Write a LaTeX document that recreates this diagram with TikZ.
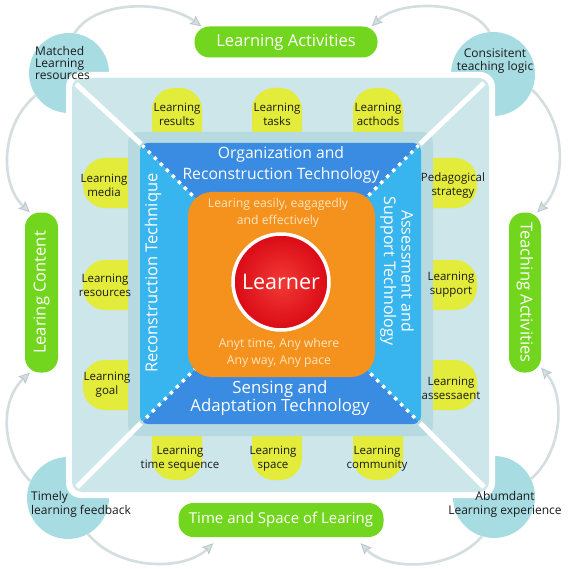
\documentclass[tikz,border=0pt]{standalone}
\usepackage{fontspec}
\setmainfont{Open Sans}
\usetikzlibrary{arrows.meta}
\definecolor{outersq}{HTML}{CDE6EA}
\definecolor{halo}{HTML}{B7DAE0}
\definecolor{darkblue}{HTML}{3A8BE2}
\definecolor{lightblue}{HTML}{38B5EF}
\definecolor{orangebox}{HTML}{F5921E}
\definecolor{redc}{HTML}{DA0A16}
\definecolor{redlight}{HTML}{F23A34}
\definecolor{greenpill}{HTML}{73D61E}
\definecolor{yel}{HTML}{E3EC3A}
\definecolor{tealc}{HTML}{A8DCE3}
\definecolor{arcgray}{HTML}{D4DDE0}
\definecolor{arcdark}{HTML}{BAC6CA}
\definecolor{cream}{HTML}{FDE6C0}
\definecolor{txt}{HTML}{1A1A1A}
\tikzset{
  cornerc/.style={circle, fill=tealc, inner sep=0pt},
  pill/.style={fill=greenpill, rounded corners=15pt, text=white, font=\fontsize{16.5}{18}\selectfont, inner sep=0pt},
  ylab/.style={align=center, text=txt, font=\fontsize{11.5}{14}\selectfont, inner sep=0pt},
  ctext/.style={text=txt, inner sep=0pt},
  tech/.style={text=white, align=center, inner sep=0pt},
  otext/.style={text=cream, align=center, inner sep=0pt, font=\fontsize{12.2}{17.5}\selectfont},
  conn/.style={draw=arcgray, line width=2.6pt, -{Stealth[length=11pt,width=10pt,inset=2pt,color=arcdark,fill=arcgray,line width=0.8pt]}},
  yshape/.style={fill=yel, rounded corners=22pt},
  diag/.style={white, line width=5pt},
  dots/.style={white, line width=3.5pt, dash pattern=on 3.5pt off 5pt}
}
\begin{document}
\begin{tikzpicture}[x=1pt,y=-1pt]
\useasboundingbox (0,0) rectangle (567,569);
\fill[white] (0,0) rectangle (567,569);

% corner circles
\node[cornerc, minimum size=80pt] (tlc) at (69,73) {};
\node[cornerc, minimum size=84pt] (trc) at (493,74) {};
\node[cornerc, minimum size=82pt] (blc) at (68,498) {};
\node[cornerc, minimum size=82pt] (brc) at (494,497) {};

% white gap and outer square
\fill[white, rounded corners=15pt] (66,72) rectangle (495,498);
\fill[outersq, rounded corners=10pt] (72,78) rectangle (489,492);

% yellow shapes (extending under halo)
\foreach \c in {177,277,378} {
  \fill[yshape] (\c-25,88) rectangle (\c+25,170);
  \fill[yshape] (\c-25,400) rectangle (\c+25,480);
}
\foreach \c in {183,285,385} {
  \fill[yshape] (83,\c-25) rectangle (170,\c+25);
  \fill[yshape] (390,\c-25) rectangle (477,\c+25);
}

% halo
\fill[halo, rounded corners=10pt] (128,132) rectangle (433,436);

% white diagonals
\draw[diag] (141,144) -- (76,84);
\draw[diag] (420,144) -- (484,83);
\draw[diag] (141,423) -- (77,487);
\draw[diag] (420,423) -- (484,487);

% inner square
\begin{scope}
\clip[rounded corners=8pt] (140,143) rectangle (421,424);
\fill[darkblue] (140,143) -- (421,143) -- (280.5,283.5) -- cycle;
\fill[darkblue] (140,424) -- (421,424) -- (280.5,283.5) -- cycle;
\fill[lightblue] (140,143) -- (140,424) -- (280.5,283.5) -- cycle;
\fill[lightblue] (421,143) -- (421,424) -- (280.5,283.5) -- cycle;
\draw[dots] (142,145) -- (419,422);
\draw[dots] (419,145) -- (142,422);
\end{scope}

% orange box
\fill[orangebox, rounded corners=24pt] (188,192) rectangle (375,377);

% learner
\node[circle, minimum size=96pt, draw=white, line width=3.5pt, inner color=redlight, outer color=redc, text=white, font=\fontsize{21.5}{26}\selectfont] (learner) at (281,282) {Learner};

% orange texts
\node[otext] (easy) at (278,213) {Learing easily, eagagedly\\and effectively};
\node[otext] (any) at (279,353) {Anyt time, Any where\\Any way, Any pace};

% technology labels
\node[tech, font=\fontsize{15.7}{20.5}\selectfont] (org) at (281,165) {Organization and\\Reconstruction Technology};
\node[tech, font=\fontsize{16.8}{17.5}\selectfont] (sens) at (280,398) {Sensing and\\Adaptation Technology};
\node[tech, font=\fontsize{16.5}{18}\selectfont, rotate=90] (rec) at (153,273) {Reconstruction Technique};
\node[tech, font=\fontsize{16}{17.5}\selectfont, rotate=-90] (ass) at (397,271) {Assessment and\\Support Technology};

% yellow labels
\node[ylab] (yt1) at (177,114) {Learning\\results};
\node[ylab] (yt2) at (277,114) {Learning\\tasks};
\node[ylab] (yt3) at (378,114) {Learning\\acthods};
\node[ylab] (yl1) at (104,185) {Learning\\media};
\node[ylab] (yl2) at (105,285) {Learning\\resources};
\node[ylab] (yl3) at (107,385) {Learning\\goal};
\node[ylab] (yr1) at (453,186) {Pedagogical\\strategy};
\node[ylab] (yr2) at (451,285) {Learning\\support};
\node[ylab] (yr3) at (451,388) {Learning\\assessaent};
\node[ylab] (yb1) at (180,459) {Learning\\time sequence};
\node[ylab] (yb2) at (273,459) {Learning\\space};
\node[ylab] (yb3) at (377,459) {Learning\\community};

% pills
\node[pill, minimum width=183pt, minimum height=31pt] (la) at (286,42) {Learning Activities};
\node[pill, minimum width=205pt, minimum height=34pt, font=\fontsize{15}{18}\selectfont] (tsl) at (281,520) {Time and Space of Learing};
\node[pill, minimum width=33pt, minimum height=160pt] (lc) at (41.5,292.5) {\rotatebox{90}{Learing Content}};
\node[pill, minimum width=32pt, minimum height=160pt] (ta) at (525,292.5) {\rotatebox{-90}{Teaching Activities}};

% connectors
\draw[conn] (tlc.82) .. controls +(20,-33) and +(-37,-27) .. ([xshift=7pt]la.north west);
\draw[conn] (tlc.214) .. controls +(-36,30) and +(-30,-28) .. ([xshift=5pt]lc.north west);
\draw[conn] (trc.95) .. controls +(-18,-32) and +(28,-27) .. ([xshift=-6pt]la.north east);
\draw[conn] (trc.-22) .. controls +(37,35) and +(28,-28) .. ([xshift=-4pt]ta.north east);
\draw[conn] (blc.156) .. controls +(-30,-31) and +(-30,28) .. ([xshift=5pt]lc.south west);
\draw[conn] (blc.-61) .. controls +(32,38) and +(-28,27) .. ([xshift=35pt,yshift=-6pt]tsl.south west);
\draw[conn] (brc.253) .. controls +(-32,36) and +(25,27) .. ([xshift=-23pt,yshift=-6pt]tsl.south east);
\draw[conn] (brc.26) .. controls +(32,-28) and +(24,28) .. ([yshift=5pt]ta.south east);

% corner texts
\node[ctext, align=left, anchor=west, font=\fontsize{12}{12}\selectfont] (tlt) at (35,63) {Matched\\Learning\\resources};
\node[ctext, align=center, font=\fontsize{12}{12.5}\selectfont] (trt) at (495,61) {Consisitent\\teaching logic};
\node[ctext, align=left, anchor=west, font=\fontsize{12}{14}\selectfont] (blt) at (31,504) {Timely\\learning feedback};
\node[ctext, align=center, font=\fontsize{12}{14}\selectfont] (brt) at (505,504) {Abumdant\\Learning experience};
\end{tikzpicture}
\end{document}
